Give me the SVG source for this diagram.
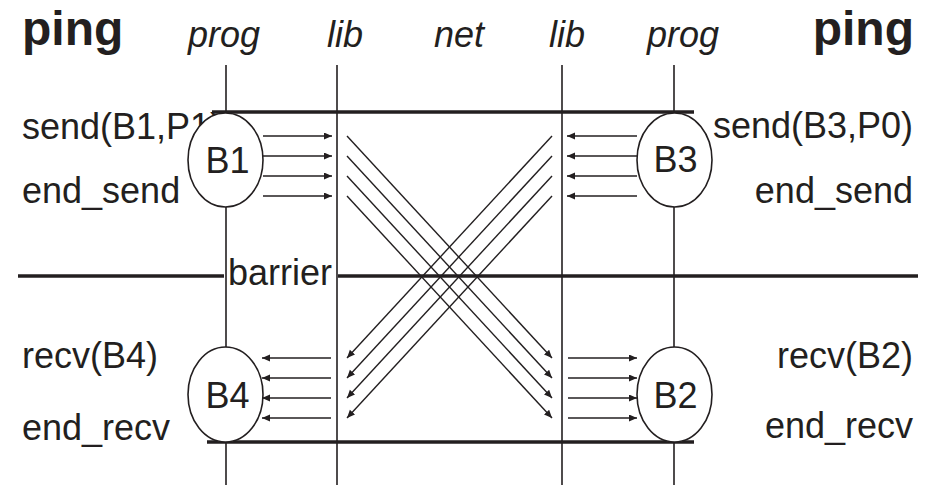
<svg xmlns="http://www.w3.org/2000/svg" width="934" height="485" viewBox="0 0 934 485">
  <style>
    text { font-family: "Liberation Sans", Arial, sans-serif; fill: #231f20; }
    .title { font-size: 48px; font-weight: bold; }
    .col { font-size: 36px; font-style: italic; }
    .lbl { font-size: 36px; }
    .life { stroke: #231f20; stroke-width: 1.6; fill: none; }
    .thick { stroke: #231f20; stroke-width: 3.4; fill: none; }
    .arr { stroke: #231f20; stroke-width: 1.4; fill: none; marker-end: url(#ah); }
    .node ellipse { fill: #ffffff; stroke: #231f20; stroke-width: 1.6; }
    .node text { font-size: 36px; text-anchor: middle; }
  </style>
  <defs>
    <marker id="ah" markerUnits="userSpaceOnUse" markerWidth="9" markerHeight="8" refX="8" refY="3.5" orient="auto">
      <path d="M0,0 L8,3.5 L0,7 z" fill="#231f20"/>
    </marker>
  </defs>
  <rect width="934" height="485" fill="#ffffff"/>

  <g id="headers">
    <text class="title" x="22" y="45">ping</text>
    <text class="col" x="188" y="47">prog</text>
    <text class="col" x="327" y="47">lib</text>
    <text class="col" x="434" y="47">net</text>
    <text class="col" x="549" y="47">lib</text>
    <text class="col" x="647" y="47">prog</text>
    <text class="title" x="914" y="45" text-anchor="end">ping</text>
  </g>

  <g id="labels">
    <text class="lbl" x="22" y="139">send(B1,P1)</text>
    <text class="lbl" x="22" y="203">end_send</text>
    <text class="lbl" x="913" y="138" text-anchor="end">send(B3,P0)</text>
    <text class="lbl" x="913" y="203" text-anchor="end">end_send</text>
    <text class="lbl" x="22" y="368">recv(B4)</text>
    <text class="lbl" x="22" y="440">end_recv</text>
    <text class="lbl" x="913" y="368" text-anchor="end">recv(B2)</text>
    <text class="lbl" x="913" y="438" text-anchor="end">end_recv</text>
    <text class="lbl" x="228" y="285">barrier</text>
  </g>

  <g id="lifelines">
    <line class="life" x1="226" y1="65" x2="226" y2="485"/>
    <line class="life" x1="337" y1="65" x2="337" y2="485"/>
    <line class="life" x1="562" y1="65" x2="562" y2="485"/>
    <line class="life" x1="674" y1="65" x2="674" y2="485"/>
  </g>

  <g id="phases">
    <line class="thick" x1="212" y1="112" x2="694" y2="112"/>
    <line class="thick" x1="18" y1="276" x2="224" y2="276"/>
    <line class="thick" x1="338" y1="276" x2="918" y2="276"/>
    <line class="thick" x1="207" y1="442" x2="694" y2="442"/>
  </g>

  <g id="connectors">
    <line class="arr" x1="263" y1="136" x2="332" y2="136"/>
    <line class="arr" x1="263" y1="156" x2="332" y2="156"/>
    <line class="arr" x1="263" y1="176" x2="332" y2="176"/>
    <line class="arr" x1="263" y1="196" x2="332" y2="196"/>

    <line class="arr" x1="637" y1="136" x2="567" y2="136"/>
    <line class="arr" x1="637" y1="156" x2="567" y2="156"/>
    <line class="arr" x1="637" y1="176" x2="567" y2="176"/>
    <line class="arr" x1="637" y1="196" x2="567" y2="196"/>

    <line class="arr" x1="347" y1="136" x2="552" y2="358"/>
    <line class="arr" x1="347" y1="156" x2="552" y2="378"/>
    <line class="arr" x1="347" y1="176" x2="552" y2="398"/>
    <line class="arr" x1="347" y1="196" x2="552" y2="418"/>

    <line class="arr" x1="552" y1="136" x2="347" y2="358"/>
    <line class="arr" x1="552" y1="156" x2="347" y2="378"/>
    <line class="arr" x1="552" y1="176" x2="347" y2="398"/>
    <line class="arr" x1="552" y1="196" x2="347" y2="418"/>

    <line class="arr" x1="331" y1="358" x2="262" y2="358"/>
    <line class="arr" x1="331" y1="378" x2="262" y2="378"/>
    <line class="arr" x1="331" y1="398" x2="262" y2="398"/>
    <line class="arr" x1="331" y1="418" x2="262" y2="418"/>

    <line class="arr" x1="568" y1="358" x2="637" y2="358"/>
    <line class="arr" x1="568" y1="378" x2="637" y2="378"/>
    <line class="arr" x1="568" y1="398" x2="637" y2="398"/>
    <line class="arr" x1="568" y1="418" x2="637" y2="418"/>
  </g>

  <g id="B1" class="node">
    <ellipse cx="225.5" cy="160" rx="37.5" ry="47"/>
    <text x="227.5" y="173">B1</text>
  </g>
  <g id="B3" class="node">
    <ellipse cx="674.5" cy="160" rx="37.5" ry="47"/>
    <text x="675.5" y="172">B3</text>
  </g>
  <g id="B4" class="node">
    <ellipse cx="225.5" cy="394.5" rx="37.5" ry="47.5"/>
    <text x="227.5" y="408">B4</text>
  </g>
  <g id="B2" class="node">
    <ellipse cx="674.5" cy="394.5" rx="37.5" ry="47.5"/>
    <text x="675.5" y="408">B2</text>
  </g>
</svg>
